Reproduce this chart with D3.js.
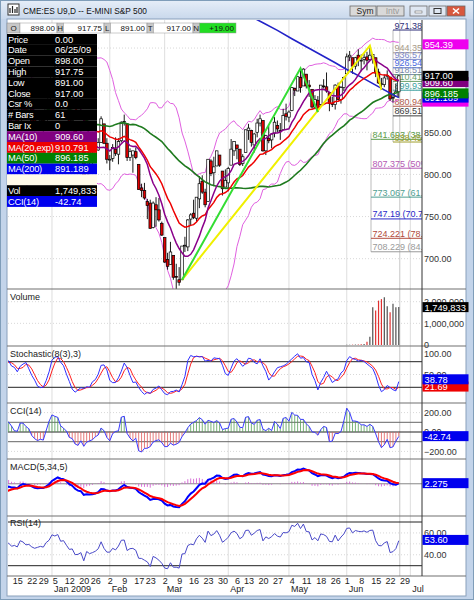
<!DOCTYPE html>
<html><head><meta charset="utf-8">
<script src="https://cdn.jsdelivr.net/npm/d3@7"></script>
<style>html,body{margin:0;padding:0;background:#fff;overflow:hidden}</style>
</head><body><svg id="chart" width="474" height="600"></svg>
<script>
// ---------------- DATA ----------------
const dates = [
"2008-10-01","2008-10-02","2008-10-03","2008-10-06","2008-10-07","2008-10-08","2008-10-09","2008-10-10","2008-10-13","2008-10-14","2008-10-15","2008-10-16","2008-10-17","2008-10-20","2008-10-21","2008-10-22","2008-10-23","2008-10-24","2008-10-27","2008-10-28","2008-10-29","2008-10-30","2008-10-31",
"2008-11-03","2008-11-04","2008-11-05","2008-11-06","2008-11-07","2008-11-10","2008-11-11","2008-11-12","2008-11-13","2008-11-14","2008-11-17","2008-11-18","2008-11-19","2008-11-20","2008-11-21","2008-11-24","2008-11-25","2008-11-26","2008-11-28",
"2008-12-01","2008-12-02","2008-12-03","2008-12-04","2008-12-05","2008-12-08","2008-12-09","2008-12-10","2008-12-11","2008-12-12","2008-12-15","2008-12-16","2008-12-17","2008-12-18","2008-12-19","2008-12-22","2008-12-23","2008-12-24","2008-12-26","2008-12-29","2008-12-30","2008-12-31",
"2009-01-02","2009-01-05","2009-01-06","2009-01-07","2009-01-08","2009-01-09","2009-01-12","2009-01-13","2009-01-14","2009-01-15","2009-01-16","2009-01-20","2009-01-21","2009-01-22","2009-01-23","2009-01-26","2009-01-27","2009-01-28","2009-01-29","2009-01-30",
"2009-02-02","2009-02-03","2009-02-04","2009-02-05","2009-02-06","2009-02-09","2009-02-10","2009-02-11","2009-02-12","2009-02-13","2009-02-17","2009-02-18","2009-02-19","2009-02-20","2009-02-23","2009-02-24","2009-02-25","2009-02-26","2009-02-27",
"2009-03-02","2009-03-03","2009-03-04","2009-03-05","2009-03-06","2009-03-09","2009-03-10","2009-03-11","2009-03-12","2009-03-13","2009-03-16","2009-03-17","2009-03-18","2009-03-19","2009-03-20","2009-03-23","2009-03-24","2009-03-25","2009-03-26","2009-03-27","2009-03-30","2009-03-31",
"2009-04-01","2009-04-02","2009-04-03","2009-04-06","2009-04-07","2009-04-08","2009-04-09","2009-04-13","2009-04-14","2009-04-15","2009-04-16","2009-04-17","2009-04-20","2009-04-21","2009-04-22","2009-04-23","2009-04-24","2009-04-27","2009-04-28","2009-04-29","2009-04-30",
"2009-05-01","2009-05-04","2009-05-05","2009-05-06","2009-05-07","2009-05-08","2009-05-11","2009-05-12","2009-05-13","2009-05-14","2009-05-15","2009-05-18","2009-05-19","2009-05-20","2009-05-21","2009-05-22","2009-05-26","2009-05-27","2009-05-28","2009-05-29",
"2009-06-01","2009-06-02","2009-06-03","2009-06-04","2009-06-05","2009-06-08","2009-06-09","2009-06-10","2009-06-11","2009-06-12","2009-06-15","2009-06-16","2009-06-17","2009-06-18","2009-06-19","2009-06-22","2009-06-23","2009-06-24","2009-06-25"];

const open = [1152,1148,1103,1085,1045,976,976,890,900,998,983,897,930,931,969,939,887,883,862,837,927,928,941,
957,957,992,933,896,925,906,881,841,892,862,841,848,794,744,789,841,841,874,
879,809,835,860,835,873,900,884,889,862,873,862,900,896,878,879,866,855,860,864,861,881,
895,921,923,919,897,901,882,862,859,834,837,841,799,831,815,825,829,838,860,837,
817,819,830,824,840,862,860,820,823,827,812,784,781,768,766,737,764,758,742,
725,699,693,704,679,675,675,715,714,747,754,748,771,792,779,768,816,802,810,823,804,785,
790,811,828,835,830,813,826,852,852,835,850,861,864,828,843,841,849,858,852,853,872,
868,876,902,899,915,905,919,906,901,880,888,883,905,904,897,884,883,905,889,903,
919.5,939.5,938.5,928.5,941.5,934.5,936.5,939.5,936.5,939.5,938.5,921.5,907.5,906.5,916.5,915.5,890.5,892.5,898];

const high = [1155,1149,1141,1085,1060,1009,993,924,994,1032,983,936,973,973,973,939,911,884,881,929,958,951,973,
964,995,992,933,919,939,906,881,901,905,870,854,853,809,789,853,857,876,885,
879,841,865,867,870,909,908,899,896,874,875,905,902,903,889,880,871,860,864,865,882,902,
926,929,935,919,902,904,882,869,859,843,861,842,833,831,830,844,843,869,860,843,
823,836,844,843,863,871,861,831,828,832,812,789,790,771,770,768,773,772,744,
725,707,720,704,694,690,715,726,747,754,770,773,798,799,783,818,818,821,828,823,804,806,
809,842,839,835,830,824,853,860,853,849,866,871,864,847,858,848,868,864,861,878,884,
876,903,903,916,926,926,919,912,901,894,893,906,913,921,898,892,907,909,905,916,
943.5,946.5,938.5,939.5,948.5,942.5,943.5,945.5,952.75,942.5,938.5,925.5,914.5,918.5,923.5,915.5,894.5,907.5,917.75];

const low = [1128,1099,1086,995,984,958,897,828,900,960,891,854,906,926,940,863,848,840,834,824,910,916,929,
946,957,937,888,887,895,872,838,806,857,836,814,794,736,729,789,823,834,865,
806,809,825,825,809,873,875,876,863,842,854,859,885,875,871,852,851,852,857,848,861,880,
891,912,919,894,888,879,856,854,828,810,830,796,796,808,806,820,828,838,836,813,
805,815,822,812,838,858,816,816,802,818,782,773,770,747,736,736,738,744,727,
695,687,693,675,662,668,675,708,709,740,747,744,760,777,761,768,798,786,810,809,775,785,
780,811,822,818,810,810,826,841,833,826,844,857,827,823,837,831,844,850,841,853,864,
862,875,893,899,897,905,902,892,878,878,874,882,902,897,875,880,877,888,884,899,
919.5,934.5,919.5,924.5,928.5,922.5,930.5,923.5,936.5,931.5,915.5,907.5,900.5,903.5,912.5,887.5,885.5,892.5,891];

const close = [1149,1102,1087,1045,984,973,898,887,991,986,896,934,929,973,943,885,896,865,837,929,918,942,957,
954,994,941,893,919,907,887,840,899,861,839,847,795,740,788,840,845,876,884,
807,840,862,836,867,901,880,890,865,871,860,904,895,876,879,863,854,859,864,860,882,894,
924,919,927,899,902,882,862,864,835,836,842,797,832,820,824,829,838,866,837,818,
818,832,825,839,862,863,820,827,828,820,782,781,772,763,736,766,758,746,728,
696,691,708,678,678,672,715,716,746,752,749,773,789,779,764,818,801,809,828,811,783,793,
807,830,839,831,812,821,853,855,838,848,861,866,828,846,840,848,862,854,851,870,869,
874,903,900,916,903,925,905,904,880,889,879,906,904,899,884,883,906,889,903,915,
939.5,941.5,928.5,938.5,936.5,935.5,938.5,935.5,941.5,942.5,920.5,908.5,907.5,914.5,917.5,889.5,891.5,898,917];

const volDates = ["2009-06-01","2009-06-02","2009-06-03","2009-06-04","2009-06-05","2009-06-08","2009-06-09","2009-06-10","2009-06-11","2009-06-12","2009-06-15","2009-06-16","2009-06-17","2009-06-18","2009-06-19","2009-06-22","2009-06-23","2009-06-24","2009-06-25"];
const volValues = [12000,14000,16000,20000,25000,30000,45000,150000,380000,1740000,1590000,2050000,2120000,2200000,1790000,1510000,1900000,1740000,1749833];

const ma200Dates = ["2009-04-13","2009-04-20","2009-04-27","2009-05-04","2009-05-11","2009-05-18","2009-05-26","2009-06-01","2009-06-08","2009-06-15","2009-06-22","2009-06-25"];
const ma200Values = [989,980,971,961,951.5,942,932.5,924.5,915.5,906,896.5,891.189];

const futureDates = ["2009-06-26","2009-06-29","2009-06-30","2009-07-01","2009-07-02","2009-07-06","2009-07-07"];
const weekTickDates = ["2008-12-15","2008-12-22","2008-12-29","2009-01-05","2009-01-12","2009-01-20","2009-01-26","2009-02-02","2009-02-09","2009-02-17","2009-02-23","2009-03-02","2009-03-09","2009-03-16","2009-03-23","2009-03-30","2009-04-06","2009-04-13","2009-04-20","2009-04-27","2009-05-04","2009-05-11","2009-05-18","2009-05-26","2009-06-01","2009-06-08","2009-06-15","2009-06-22","2009-06-29"];
const weekTickLabels = ["15","22","29","5","12","20","26","2","9","17","23","2","9","16","23","30","6","13","20","27","4","11","18","26","1","8","15","22","29"];
const monthTickDates = ["2009-01-02","2009-02-02","2009-03-02","2009-04-01","2009-05-01","2009-06-01","2009-07-01"];
const monthTickLabels = ["Jan 2009","Feb","Mar","Apr","May","Jun","Jul"];

const priceGrid = [700,750,800,850,900,950];
const priceTickLabels = [700,750,800,850];   // 900 and 950 are covered by the value boxes
const greenLineDates = ["2009-03-10","2009-05-07","2009-05-15"];
const greenLinePrices = [675,926,874];
const yellowLineDates = ["2009-03-10","2009-06-11","2009-06-17"];
const yellowLinePrices = [675,952.75,900.5];

const fibLowValues = [841.693,807.375,773.067,747.19,724.221,708.229];
const fibLowTexts = ["841.693 (38.2%)","807.375 (50%)","773.067 (61.8%)","747.19 (70.7%)","724.221 (78.6%)","708.229 (84.1%)"];
const fibLowColors = ["#5c9c4c","#b45ab4","#4f9e92","#2828c8","#b04a3c","#9a9a9a"];
const fibUpValues = [971.38,944.35,936.57,926.54,918.51,910.41,899.937,880.949,869.51,838.457];
const fibUpTexts = ["971.38","944.35 (1","936.57 (2","926.54 (3","918.51 (5","910.41 (6","899.937 (7","880.949 (8","869.51 (1","838.457 (1"];
const fibUpColors = ["#30307a","#a89a88","#7a86c8","#4a6ae0","#7888a8","#6aa06a","#3aa0a0","#b05a4a","#404040","#a0a030"];

const dwLabels = ["Price","Date","Open","High","Low","Close","Csr %","# Bars","Bar Ix","MA(10)","MA(20,exp)","MA(50)","MA(200)","","Vol","CCI(14)"];
const dwValues = ["0.00","06/25/09","898.00","917.75","891.00","917.00","0.0","61","0","909.60","910.791","896.185","891.189","","1,749,833","-42.74"];
const dwColors = ["#000","#000","#000","#000","#000","#000","#000","#000","#000","#800080","#ee0000","#008000","#0000ee","#fffbea","#000","#0000ee"];

const stripLabels = ["O","H","L","T","N"];
const stripValues = ["898.00","917.75","891.00","917.00","+19.00"];

const priceBoxValues = [886.4,891.189,896.185,909.60,917.00,954.39];
const priceBoxTexts = ["","891.189","896.185","909.60","917.00","954.39"];
const priceBoxColors = ["#ee00ee","#0000ee","#008000","#800080","#000000","#ee00ee"];

const stochLast = [38.78,21.69], cciLast = -42.74, macdLast = 2.275, rsiLast = 53.60, volLast = 1749833;

// ---------------- STUDIES (computed from the bars) ----------------
const N = close.length;
function sma(a,n){return a.map((_,i)=>{if(i<n-1||a.slice(i-n+1,i+1).some(v=>v==null))return null;return d3.mean(a.slice(i-n+1,i+1));});}
function ema(a,n){const k=2/(n+1);let p=null;return a.map(v=>{if(v==null)return null;p=(p==null)?v:p+k*(v-p);return p;});}
const ma10 = sma(close,10), ema20 = ema(close,20), ma50 = sma(close,50);
const mid20 = sma(close,20);
const sd20 = close.map((_,i)=> i<19?null:d3.deviation(close.slice(i-19,i+1))*Math.sqrt(19/20));
const bbU = mid20.map((m,i)=>m==null?null:m+2*sd20[i]);
const bbL = mid20.map((m,i)=>m==null?null:m-2*sd20[i]);
const num=[],den=[];
for(let i=0;i<N;i++){ if(i<7){num.push(null);den.push(null);continue;}
  const hh=d3.max(high.slice(i-7,i+1)), ll=d3.min(low.slice(i-7,i+1)); num.push(close[i]-ll); den.push(hh-ll);}
const stK = num.map((_,i)=>{ if(i<9)return null; const a=num[i]+num[i-1]+num[i-2], b=den[i]+den[i-1]+den[i-2]; return b?100*a/b:50;});
const stD = sma(stK,3);
const tp = close.map((c,i)=>(high[i]+low[i]+c)/3);
const cci = tp.map((t,i)=>{ if(i<13)return null; const w=tp.slice(i-13,i+1), m=d3.mean(w), md=d3.mean(w,v=>Math.abs(v-m)); return (t-m)/(0.015*md);});
const e5=ema(close,5), e34=ema(close,34);
const macd = e5.map((v,i)=>v-e34[i]);
const macdSig = ema(macd,5);
const macdHist = macd.map((v,i)=>v-macdSig[i]);
const rsi=[null]; {let ag=0,al=0;
 for(let i=1;i<N;i++){const ch=close[i]-close[i-1], g=Math.max(ch,0), l=Math.max(-ch,0);
  if(i<=14){ag+=g/14;al+=l/14;rsi.push(i<14?null:100-100/(1+ag/al));}
  else{ag=(ag*13+g)/14;al=(al*13+l)/14;rsi.push(100-100/(1+ag/al));}}}

// ---------------- LAYOUT ----------------
const F = '"Liberation Sans", Arial, Helvetica, sans-serif';
const svg = d3.select('#chart');
const L=8, R=422;
const P = {price:[20,289], vol:[289,346], stoch:[346,403], cci:[403,459], macd:[459,516], rsi:[516,576]};
const allDates = dates.concat(futureDates);
const idx = new Map(allDates.map((d,i)=>[d,i]));
const x = d3.scaleLinear().domain([idx.get("2008-12-15"), idx.get("2009-06-22")]).range([17.3,390.1]);
const yP = d3.scaleLinear().domain([700,850]).range([258.7,132.3]);
const yV = d3.scaleLinear().domain([0,2000000]).range([345,301.7]);
const yS = d3.scaleLinear().domain([20,80]).range([387.3,361.7]);
const yC = d3.scaleLinear().domain([-100,100]).range([441.7,422.3]);
const yM = d3.scaleLinear().domain([-100,80]).range([511,462]);
const yR = d3.scaleLinear().domain([30,70]).range([565.7,522]);
const first = idx.get("2008-12-09");
const vis = d3.range(first, N);

const defs = svg.append('defs');
const tg = defs.append('linearGradient').attr('id','tg').attr('x1',0).attr('y1',0).attr('x2',0).attr('y2',1);
tg.append('stop').attr('offset',0).attr('stop-color','#e6eef8');
tg.append('stop').attr('offset',1).attr('stop-color','#c9d8ec');
svg.append('rect').attr('width',474).attr('height',600).attr('fill','#c3d4ea');
svg.append('rect').attr('x',0).attr('y',0).attr('width',474).attr('height',19).attr('fill','url(#tg)');
svg.append('rect').attr('x',0.5).attr('y',0.5).attr('width',473).attr('height',599).attr('fill','none').attr('stroke','#7f9db9');
svg.append('rect').attr('x',7).attr('y',19).attr('width',459).attr('height',577).attr('fill','#fff').attr('stroke','#8aa0bb').attr('stroke-width',1);

const icon = svg.append('g').attr('transform','translate(8,4)');
icon.append('rect').attr('width',11).attr('height',11).attr('fill','#fff').attr('stroke','#333');
icon.append('path').attr('d','M2,9V4M4.5,9V2M7,9V5M9,9V3').attr('stroke','#222').attr('stroke-width',1.2);
svg.append('text').attr('x',23).attr('y',14).attr('font-family',F).attr('font-size',8.3).attr('fill','#111').text('CME:ES U9,D -- E-MINI S&P 500');
function btn(x0,w,label,fill,col){const g=svg.append('g');
 g.append('rect').attr('x',x0).attr('y',6).attr('width',w).attr('height',10).attr('fill',fill).attr('stroke','#6c6c6c').attr('stroke-width',0.8);
 if(label)g.append('text').attr('x',x0+w/2+2).attr('y',14).attr('text-anchor','middle').attr('font-family',F).attr('font-size',8.5).attr('fill',col).text(label);
 return g;}
btn(350,26,'Sym','#d9d9d9','#222'); btn(377,27,'Intv','#d9d9d9','#999');
btn(410,17,'','#dfe7f2','#000'); svg.append('rect').attr('x',415).attr('y',11).attr('width',7).attr('height',2).attr('fill','#fff').attr('stroke','#555').attr('stroke-width',0.5);
btn(429,17,'','#dfe7f2','#000'); svg.append('rect').attr('x',434).attr('y',8.5).attr('width',7).attr('height',5).attr('fill','none').attr('stroke','#333').attr('stroke-width',1);
btn(447,18,'','#d8583e','#fff'); svg.append('path').attr('d','M453,8.5L459,13.5M459,8.5L453,13.5').attr('stroke','#fff').attr('stroke-width',1.6);

Object.entries(P).forEach(([k,[t,b]])=>{defs.append('clipPath').attr('id','clip-'+k).append('rect').attr('x',L).attr('y',t).attr('width',R-L).attr('height',b-t);});

const grid = svg.append('g');
monthTickDates.forEach(d=>{grid.append('line').attr('x1',x(idx.get(d))).attr('x2',x(idx.get(d))).attr('y1',20).attr('y2',576).attr('stroke','#dedede');});
grid.append('line').attr('x1',x(N-1)+1).attr('x2',x(N-1)+1).attr('y1',20).attr('y2',576).attr('stroke','#c8c8c8');
priceGrid.forEach(v=>grid.append('line').attr('x1',L).attr('x2',R).attr('y1',yP(v)).attr('y2',yP(v)).attr('stroke','#d8d8d8').attr('stroke-dasharray','1,2'));
[1000000,2000000].forEach(v=>grid.append('line').attr('x1',L).attr('x2',R).attr('y1',yV(v)).attr('y2',yV(v)).attr('stroke','#d8d8d8').attr('stroke-dasharray','1,2'));
[50].forEach(v=>grid.append('line').attr('x1',L).attr('x2',R).attr('y1',yS(v)).attr('y2',yS(v)).attr('stroke','#d8d8d8').attr('stroke-dasharray','1,2'));
[200,-200].forEach(v=>grid.append('line').attr('x1',L).attr('x2',R).attr('y1',yC(v)).attr('y2',yC(v)).attr('stroke','#d8d8d8').attr('stroke-dasharray','1,2'));
[40,50,60].forEach(v=>grid.append('line').attr('x1',L).attr('x2',R).attr('y1',yR(v)).attr('y2',yR(v)).attr('stroke','#d8d8d8').attr('stroke-dasharray','1,2'));

// ---------------- PRICE PANEL ----------------
const gp = svg.append('g').attr('clip-path','url(#clip-price)');
const line = (ys,arr)=>d3.line().defined(i=>arr[i]!=null).x(i=>x(i)).y(i=>ys(arr[i]));
gp.append('line').attr('x1',371).attr('x2',371).attr('y1',yP(fibLowValues[0])-6).attr('y2',yP(fibLowValues[5])).attr('stroke','#bbb');
gp.append('line').attr('x1',393).attr('x2',393).attr('y1',yP(fibUpValues[0])).attr('y2',yP(fibUpValues[9])).attr('stroke','#bbb');
fibLowValues.forEach((v,i)=>{gp.append('line').attr('x1',371).attr('x2',R).attr('y1',yP(v)).attr('y2',yP(v)).attr('stroke',fibLowColors[i]);
  gp.append('text').attr('x',372.5).attr('y',yP(v)-1.5).attr('font-family',F).attr('font-size',9).attr('fill',fibLowColors[i]).text(fibLowTexts[i]);});
fibUpValues.forEach((v,i)=>{gp.append('line').attr('x1',393).attr('x2',R).attr('y1',yP(v)).attr('y2',yP(v)).attr('stroke',fibUpColors[i]);
  gp.append('text').attr('x',394.5).attr('y',yP(v)-1.5).attr('font-family',F).attr('font-size',9).attr('fill',fibUpColors[i]).text(fibUpTexts[i]);});
gp.append('path').attr('d',line(yP,bbU)(vis)).attr('fill','none').attr('stroke','#e060e0').attr('stroke-width',1);
gp.append('path').attr('d',line(yP,bbL)(vis)).attr('fill','none').attr('stroke','#e060e0').attr('stroke-width',1);
vis.forEach(i=>{const cx=x(i), up=close[i]>=open[i];
  gp.append('line').attr('x1',cx).attr('x2',cx).attr('y1',yP(high[i])).attr('y2',yP(low[i])).attr('stroke','#000').attr('stroke-width',0.9);
  const t=yP(Math.max(open[i],close[i])), b=yP(Math.min(open[i],close[i]));
  gp.append('rect').attr('x',cx-1.3).attr('y',t).attr('width',2.6).attr('height',Math.max(b-t,0.8)).attr('fill',up?'#fff':'#e00000').attr('stroke','#000').attr('stroke-width',0.7);});
gp.append('path').attr('d',line(yP,ma50)(vis)).attr('fill','none').attr('stroke','#1e7a1e').attr('stroke-width',1.6);
gp.append('path').attr('d',d3.line().x(d=>x(idx.get(d))).y((d,i)=>yP(ma200Values[i]))(ma200Dates)).attr('fill','none').attr('stroke','#2222c8').attr('stroke-width',1.6);
gp.append('path').attr('d',line(yP,ema20)(vis)).attr('fill','none').attr('stroke','#ee0000').attr('stroke-width',1.5);
gp.append('path').attr('d',line(yP,ma10)(vis)).attr('fill','none').attr('stroke','#8a008a').attr('stroke-width',1.5);
gp.append('path').attr('d',d3.line().x(d=>x(idx.get(d))).y((d,i)=>yP(yellowLinePrices[i]))(yellowLineDates)).attr('fill','none').attr('stroke','#f0f000').attr('stroke-width',2);
gp.append('path').attr('d',d3.line().x(d=>x(idx.get(d))).y((d,i)=>yP(greenLinePrices[i]))(greenLineDates)).attr('fill','none').attr('stroke','#33dd33').attr('stroke-width',2);

// ---------------- VOLUME ----------------
const gv = svg.append('g').attr('clip-path','url(#clip-vol)');
volDates.forEach((d,j)=>{const i=idx.get(d); const dn = close[i]<close[i-1];
  gv.append('line').attr('x1',x(i)).attr('x2',x(i)).attr('y1',yV(0)).attr('y2',yV(volValues[j])).attr('stroke',dn?'#e03030':'#505050').attr('stroke-width',1.2);});

// ---------------- STOCHASTIC ----------------
const gs = svg.append('g').attr('clip-path','url(#clip-stoch)');
[80,20].forEach(v=>gs.append('line').attr('x1',L).attr('x2',R).attr('y1',yS(v)).attr('y2',yS(v)).attr('stroke','#222'));
gs.append('path').attr('d',line(yS,stD)(vis)).attr('fill','none').attr('stroke','#ff2020').attr('stroke-width',1);
gs.append('path').attr('d',line(yS,stK)(vis)).attr('fill','none').attr('stroke','#3030ff').attr('stroke-width',1);

// ---------------- CCI ----------------
const gc = svg.append('g').attr('clip-path','url(#clip-cci)');
[100,0,-100].forEach(v=>gc.append('line').attr('x1',L).attr('x2',R).attr('y1',yC(v)).attr('y2',yC(v)).attr('stroke',v==0?'#222':'#666'));
vis.forEach(i=>{gc.append('line').attr('x1',x(i)).attr('x2',x(i)).attr('y1',yC(0)).attr('y2',yC(cci[i])).attr('stroke',cci[i]>=0?'#58a058':'#e05a5a').attr('stroke-width',0.8);});
gc.append('path').attr('d',line(yC,cci)(vis)).attr('fill','none').attr('stroke','#3a3aff').attr('stroke-width',1);

// ---------------- MACD ----------------
const gm = svg.append('g').attr('clip-path','url(#clip-macd)');
gm.append('line').attr('x1',L).attr('x2',R).attr('y1',yM(0)).attr('y2',yM(0)).attr('stroke','#888');
vis.forEach(i=>{gm.append('line').attr('x1',x(i)).attr('x2',x(i)).attr('y1',yM(0)).attr('y2',yM(macdHist[i])).attr('stroke','#d050d0').attr('stroke-width',0.8);});
gm.append('path').attr('d',line(yM,macd)(vis)).attr('fill','none').attr('stroke','#0000ff').attr('stroke-width',2);
gm.append('path').attr('d',line(yM,macdSig)(vis)).attr('fill','none').attr('stroke','#ff0000').attr('stroke-width',2);

// ---------------- RSI ----------------
const gr = svg.append('g').attr('clip-path','url(#clip-rsi)');
[70,30].forEach(v=>gr.append('line').attr('x1',L).attr('x2',R).attr('y1',yR(v)).attr('y2',yR(v)).attr('stroke','#222'));
gr.append('path').attr('d',line(yR,rsi)(vis)).attr('fill','none').attr('stroke','#4848c8').attr('stroke-width',1);

[289,346,403,459,516,576].forEach(y=>svg.append('line').attr('x1',7).attr('x2',466).attr('y1',y).attr('y2',y).attr('stroke','#707070').attr('stroke-width',1.2));
svg.append('line').attr('x1',R).attr('x2',R).attr('y1',20).attr('y2',576).attr('stroke','#333');

[["Volume",300],["Stochastic(8(3),3)",357],["CCI(14)",414],["MACD(5,34,5)",470],["RSI(14)",526]].forEach(([t,y])=>
  svg.append('text').attr('x',10).attr('y',y).attr('font-family',F).attr('font-size',9).attr('fill','#222').text(t));

// ---------------- AXES ----------------
function rAxis(scale,vals,fmt){const g=svg.append('g').attr('transform',`translate(${R},0)`).call(d3.axisRight(scale).tickValues(vals).tickFormat(fmt).tickSize(0).tickPadding(2));
 g.select('.domain').remove(); g.selectAll('text').attr('font-family',F).attr('font-size',9).attr('fill','#333'); return g;}
rAxis(yP,priceTickLabels,d3.format('.2f'));
rAxis(yV,[0,1000000,2000000],d3.format(','));
rAxis(yS,[100,50],d3.format('.2f'));
rAxis(yC,[200,0,-200],d3.format('.2f'));
rAxis(yR,[60,40],d3.format('.2f'));
function box(y,text,bg,fg){svg.append('rect').attr('x',422.5).attr('y',y-5).attr('width',46).attr('height',10).attr('fill',bg);
 if(text)svg.append('text').attr('x',424.5).attr('y',y+3.5).attr('font-family',F).attr('font-size',9.3).attr('fill',fg).text(text);}
priceBoxValues.forEach((v,i)=>box(yP(v),priceBoxTexts[i],priceBoxColors[i],'#fff'));
box(yV(volLast),d3.format(',')(volLast),'#000','#fff');
box(yS(stochLast[1]),stochLast[1].toFixed(2),'#ee0000','#fff');
box(yS(stochLast[0]),stochLast[0].toFixed(2),'#0000ee','#fff');
box(yC(cciLast),cciLast.toFixed(2),'#0000ee','#fff');
box(yM(macdLast),macdLast.toFixed(3),'#0000ee','#fff');
box(yR(rsiLast),rsiLast.toFixed(2),'#0000ee','#fff');

const ga = svg.append('g').attr('transform','translate(0,576)').call(d3.axisBottom(x).tickValues(weekTickDates.map(d=>idx.get(d))).tickFormat((d,i)=>weekTickLabels[i]).tickSize(0).tickPadding(2));
ga.select('.domain').remove(); ga.selectAll('text').attr('font-family',F).attr('font-size',9).attr('fill','#222');
const gm2 = svg.append('g').attr('transform','translate(0,576)').call(d3.axisBottom(x).tickValues(monthTickDates.map(d=>idx.get(d))).tickFormat((d,i)=>monthTickLabels[i]).tickSize(0).tickPadding(10));
gm2.select('.domain').remove(); gm2.selectAll('text').attr('font-family',F).attr('font-size',9).attr('fill','#222').attr('text-anchor','start').attr('dx',1.5);

// ---------------- OHLC STRIP ----------------
const sx = [7,57,104,147,193,236];
stripLabels.forEach((t,i)=>{const x0=sx[i], x1=sx[i+1];
  svg.append('rect').attr('x',x0).attr('y',23).attr('width',(i==0?13:6.5)).attr('height',10).attr('fill','#c8c8c8').attr('stroke','#888').attr('stroke-width',0.5);
  svg.append('text').attr('x',x0+(i==0?6.5:3.2)).attr('y',31).attr('text-anchor','middle').attr('font-family',F).attr('font-size',8).attr('fill','#222').text(t);
  const vx=x0+(i==0?13:6.5);
  svg.append('rect').attr('x',vx).attr('y',23).attr('width',x1-vx).attr('height',10).attr('fill',i==4?'#22dd22':'#fff').attr('stroke','#999').attr('stroke-width',0.5);
  svg.append('text').attr('x',x1-2).attr('y',31).attr('text-anchor','end').attr('font-family',F).attr('font-size',8).attr('fill','#111').text(stripValues[i]);});

// ---------------- DATA WINDOW ----------------
const dw = svg.append('g');
dwLabels.forEach((t,i)=>{const y0=34+i*10.8;
  dw.append('rect').attr('x',7).attr('y',y0).attr('width',90).attr('height',10.9).attr('fill',dwColors[i]);
  if(t){dw.append('text').attr('x',8).attr('y',y0+8.6).attr('font-family',F).attr('font-size',9.3).attr('letter-spacing',-0.25).attr('fill','#fff').text(t);
  dw.append('text').attr('x',55).attr('y',y0+8.6).attr('font-family',F).attr('font-size',9.3).attr('fill','#fff').text(dwValues[i]);}});
</script></body></html>
